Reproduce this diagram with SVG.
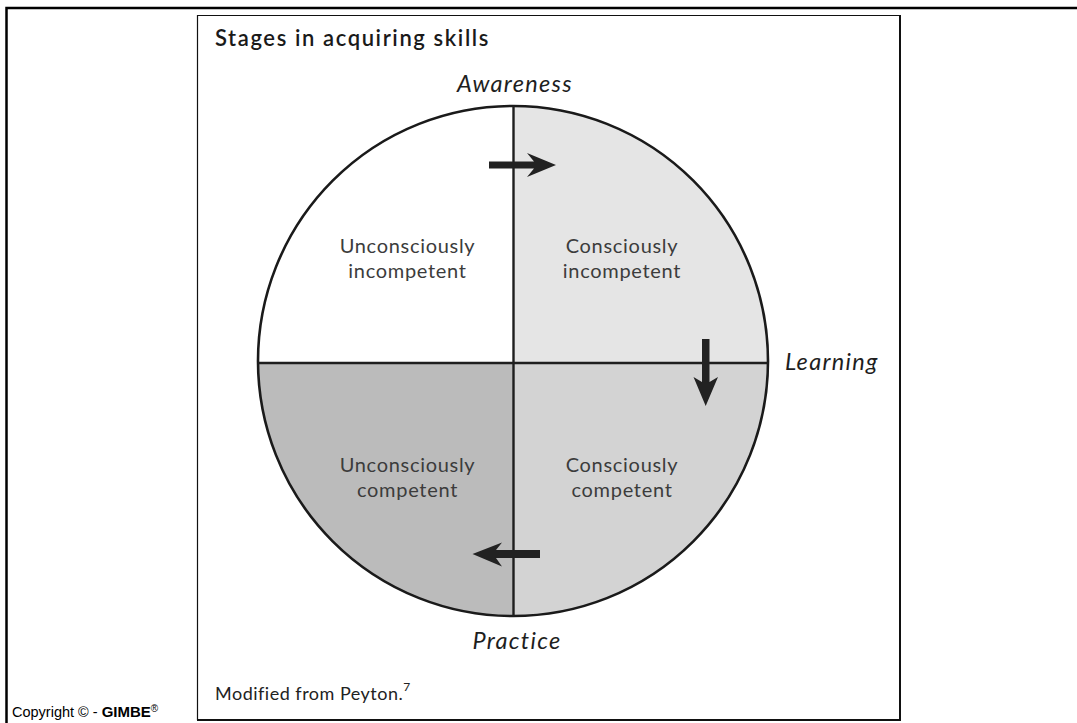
<svg xmlns="http://www.w3.org/2000/svg" width="1077" height="723" viewBox="0 0 1077 723">
<style>
.lbl{font-family:Lato,"Open Sans","DejaVu Sans",sans-serif;font-size:20px;font-weight:400;fill:#3c3c3c;text-anchor:middle;letter-spacing:0.7px}
.ax{font-family:Lato,"Open Sans","DejaVu Sans",sans-serif;font-size:23.5px;font-style:italic;fill:#1e1e1e;letter-spacing:1.3px}
.div{stroke:#1e1e1e;stroke-width:2.4;fill:none}
.arr{fill:#222}
</style>
<defs>
<clipPath id="cc"><circle cx="513" cy="361" r="255"/></clipPath>
</defs>
<rect width="1077" height="723" fill="#fff"/>
<g id="frame">
<path d="M6.5 723V8H1077" fill="none" stroke="#000" stroke-width="2.5"/>
<path d="M197.5 720V15.5H900" fill="none" stroke="#111" stroke-width="1.2"/>
<path d="M900 15V720H197" fill="none" stroke="#111" stroke-width="2"/>
</g>
<text x="215" y="46" style="font-family:Lato,'Open Sans',sans-serif;font-size:22px;font-weight:600;fill:#1a1a1a;letter-spacing:1.6px">Stages in acquiring skills</text>
<g id="q-unconsciously-incompetent">
<rect x="258" y="106" width="255.5" height="257" fill="#fff" clip-path="url(#cc)"/>
<text class="lbl" x="407.5" y="253">Unconsciously</text>
<text class="lbl" x="407.5" y="278">incompetent</text>
</g>
<g id="q-consciously-incompetent">
<rect x="513.5" y="106" width="255" height="257" fill="#e5e5e5" clip-path="url(#cc)"/>
<text class="lbl" x="622" y="253">Consciously</text>
<text class="lbl" x="622" y="278">incompetent</text>
</g>
<g id="q-consciously-competent">
<rect x="513.5" y="363" width="255" height="255" fill="#d3d3d3" clip-path="url(#cc)"/>
<text class="lbl" x="622" y="472">Consciously</text>
<text class="lbl" x="622" y="497">competent</text>
</g>
<g id="q-unconsciously-competent">
<rect x="258" y="363" width="255.5" height="255" fill="#bbbbbb" clip-path="url(#cc)"/>
<text class="lbl" x="407.5" y="472">Unconsciously</text>
<text class="lbl" x="407.5" y="497">competent</text>
</g>
<g id="circle-outline">
<circle cx="513" cy="361" r="255" fill="none" stroke="#1a1a1a" stroke-width="2.6"/>
<line class="div" x1="513.5" y1="106" x2="513.5" y2="616"/>
<line class="div" x1="258" y1="363" x2="768" y2="363"/>
</g>
<g id="axis-labels">
<text class="ax" x="515" y="92" text-anchor="middle">Awareness</text>
<text class="ax" x="785" y="370">Learning</text>
<text class="ax" x="517" y="649" text-anchor="middle">Practice</text>
</g>
<g id="connectors">
<polygon class="arr" points="489,161.5 534,161.5 527,153 556,165 527,177 534,168.5 489,168.5"/>
<polygon class="arr" points="702,339 709.5,339 709.5,382 718,377 705.7,406 693.5,377 702,382"/>
<polygon class="arr" points="540,550 496,550 502,542.5 472.5,554 502,566.5 496,558 540,558"/>
</g>
<text x="215" y="700" style="font-family:Lato,'Open Sans',sans-serif;font-size:18px;font-weight:400;fill:#222;letter-spacing:0.5px">Modified from Peyton.<tspan dy="-9" font-size="12">7</tspan></text>
<text x="12" y="717" style="font-family:'Liberation Sans',Arial,sans-serif;font-size:14.5px;fill:#000">Copyright © - <tspan style="font-family:'Liberation Sans Narrow','Liberation Sans',sans-serif;font-weight:bold;font-size:15px">GIMBE</tspan><tspan dy="-5" font-size="10">®</tspan></text>
</svg>
